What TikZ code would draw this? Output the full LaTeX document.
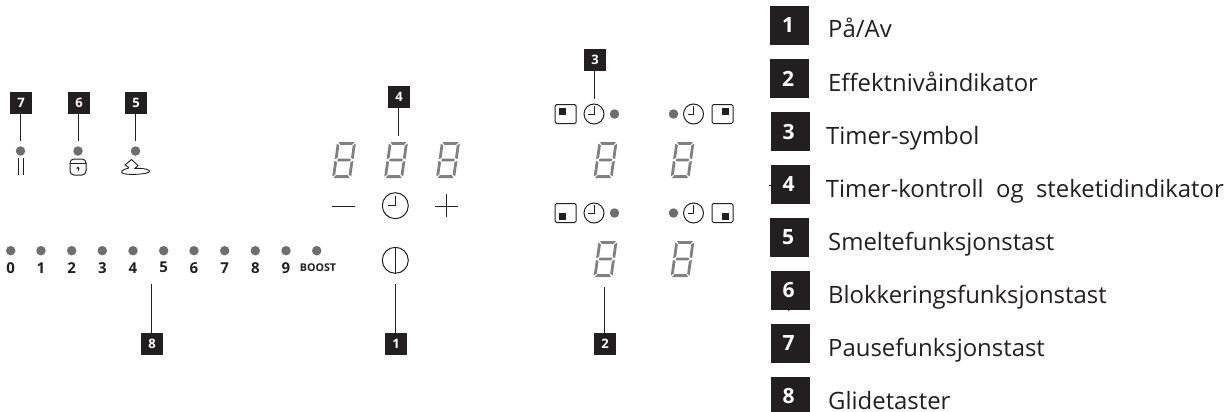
\documentclass[tikz,border=0pt]{standalone}
\usepackage{fontspec}
\setmainfont{Open Sans}
\definecolor{ink}{HTML}{231F20}
\definecolor{segc}{HTML}{808080}
\definecolor{dotc}{HTML}{6D6E70}
\tikzset{
  x=1pt,y=-1pt,
  tag/.style={fill=ink,text=white,font=\bfseries\fontsize{13}{13}\selectfont,minimum size=22pt,inner sep=0pt,outer sep=0pt},
  bigtag/.style={fill=ink,text=white,font=\bfseries\fontsize{21}{21}\selectfont,minimum size=39pt,inner sep=0pt,outer sep=0pt},
  legend/.style={anchor=base west,text=ink,font=\fontsize{23.9}{24}\selectfont,inner sep=0pt},
  lamp/.style={circle,fill=dotc,minimum size=9.5pt,inner sep=0pt,outer sep=0pt},
  sliderlabel/.style={anchor=center,text=ink,font=\bfseries\fontsize{15}{15}\selectfont,inner sep=0pt},
  lead/.style={draw=ink,line width=1pt},
  sym/.style={draw=ink,line width=1pt},
  pics/sevenseg/.style={code={
    \begin{scope}[xslant=0.14]
    \fill[segc] (1.5,-36)--(17.5,-36)--(15.5,-33.2)--(3.5,-33.2)--cycle;
    \fill[segc] (1.5,0)--(17.5,0)--(15.5,-2.8)--(3.5,-2.8)--cycle;
    \fill[segc] (2.5,-18)--(4,-19.4)--(15,-19.4)--(16.5,-18)--(15,-16.6)--(4,-16.6)--cycle;
    \fill[segc] (0,-34.5)--(2.8,-32.5)--(2.8,-20)--(0,-18.8)--cycle;
    \fill[segc] (0,-1.5)--(2.8,-3.5)--(2.8,-16)--(0,-17.2)--cycle;
    \fill[segc] (19,-34.5)--(16.2,-32.5)--(16.2,-20)--(19,-18.8)--cycle;
    \fill[segc] (19,-1.5)--(16.2,-3.5)--(16.2,-16)--(19,-17.2)--cycle;
    \end{scope}}},
  pics/clockbig/.style={code={
    \draw[sym] (0,0) circle[radius=13];
    \draw[sym] (0,-10)--(0,0)--(-7,0);}},
  pics/clocksmall/.style={code={
    \draw[sym] (0,0) circle[radius=10];
    \draw[sym] (0,-8)--(0,0)--(-6,0);}},
  pics/zonebox/.style={code={
    \draw[sym,rounded corners=1.5pt] (-10.5,-9.5) rectangle (10.5,9.5);}},
}
\begin{document}
\begin{tikzpicture}
\useasboundingbox (0,0) rectangle (1229,412);
% small tags
\node[tag] (t7) at (21,103) {7};
\node[tag] (t6) at (79,103) {6};
\node[tag] (t5) at (136,103) {5};
\node[tag] (t4) at (399,97) {4};
\node[tag] (t3) at (595,60) {3};
\node[tag] (t8) at (152,344) {8};
\node[tag] (t1) at (396,344) {1};
\node[tag] (t2) at (605,344) {2};
% lamps
\node[lamp] (l7) at (20.5,151) {};
\node[lamp] (l6) at (78,151) {};
\node[lamp] (l5) at (135.5,151) {};
\coordinate (e7) at (20.5,141);
\coordinate (e6) at (78,141);
\coordinate (e5) at (135.5,141);
\draw[lead] (t7.south -| e7) -- (e7);
\draw[lead] (t6.south -| e6) -- (e6);
\draw[lead] (t5.south -| e5) -- (e5);
\coordinate (e4) at (398.5,136);
\draw[lead] (t4.south -| e4) -- (e4);
\coordinate (e3) at (594.3,99);
\draw[lead] (t3.south -| e3) -- (e3);
\coordinate (e8) at (151,284);
\draw[lead] (t8.north -| e8) -- (e8);
\coordinate (e1) at (395,284);
\draw[lead] (t1.north -| e1) -- (e1);
\coordinate (e2) at (604,287);
\draw[lead] (t2.north -| e2) -- (e2);
% function icons
\draw[sym] (18.5,158)--(18.5,175) (23,158)--(23,175);
\draw[sym,rounded corners=4pt] (70,159) rectangle (86,175);
\draw[sym,line width=0.8pt] (70,163.5)--(86,163.5);
\draw[sym,line width=0.8pt] (78,171)--(78,168);
\fill[ink] (78,166.5) -- (76.3,168.5) -- (79.7,168.5) -- cycle;
\draw[sym,line width=0.9pt] (129,167.5)--(125,165)--(131.5,159.5)--(138,165.5)--(135,168.3)--(140,168.3) .. controls (146,168.8) and (150,170) .. (149.5,171.5) .. controls (149,174) and (130,175.5) .. (123,173.5) .. controls (120,172) and (122,169.5) .. (129,168);
% slider
\foreach \n/\px in {0/10.7,1/41,2/71.7,3/102.3,4/133,5/163.7,6/194,7/224.7,8/255.3,9/286}{
  \node[lamp] (s\n) at (\px,250.7) {};
  \node[sliderlabel] (sl\n) at (\px,267.7) {\n};
}
\node[lamp] (sb) at (316.7,250.7) {};
\node[sliderlabel,font=\bfseries\fontsize{10.7}{10.7}\selectfont] (slb) at (318,267.7) {BOOST};
% timer digits
\foreach \px in {332,384,436} \pic at (\px,178) {sevenseg};
\foreach \px in {593.5,670.5} {\pic at (\px,178) {sevenseg}; \pic at (\px,277) {sevenseg};}
% timer controls
\draw[sym] (332,206)--(355,206);
\pic at (395.3,205.7) {clockbig};
\draw[sym] (435,206)--(458,206) (446.7,194)--(446.7,217);
\draw[sym] (395.3,260.3) circle[radius=13];
\draw[sym] (395.3,248)--(395.3,272.5);
% zones
\foreach \py in {114,213}{
  \pic at (565.7,\py) {zonebox};
  \pic at (594,\py) {clocksmall};
  \node[lamp] at (614.5,\py) {};
  \node[lamp] at (673.5,\py) {};
  \pic at (693.5,\py) {clocksmall};
  \pic at (722.5,\py) {zonebox};
}
\fill[ink] (559,108) rectangle (566,115);
\fill[ink] (722,108) rectangle (729,115);
\fill[ink] (559,213) rectangle (566,220);
\fill[ink] (722,213) rectangle (729,220);
% stray ticks beside the legend
\draw[ink,line width=0.7pt] (769,185.5)--(771,185.5) (788.5,309)--(788.5,311);
% legend
\foreach \n/\ya/\xa/\txt/\xt/\yt in {
 1/25.5/789.5/På\slash Av/828/38,
 2/78.5/789.5/Effektnivåindikator/828/91.5,
 3/131.5/790/Timer-symbol/826/144.2,
 4/184.5/790/Timer-kontroll\ \ og\ \ steketidindikator/825.7/197,
 5/237.5/789.5/Smeltefunksjonstast/828/250,
 6/290.5/790/Blokkeringsfunksjonstast/828/303,
 7/343.5/790/Pausefunksjonstast/828/356,
 8/396.5/790/Glidetaster/828/409}{
  \node[bigtag] (b\n) at (\xa,\ya) {\hspace*{-3pt}\n};
  \node[legend] (c\n) at (\xt,\yt) {\txt};
}
\end{tikzpicture}
\end{document}
